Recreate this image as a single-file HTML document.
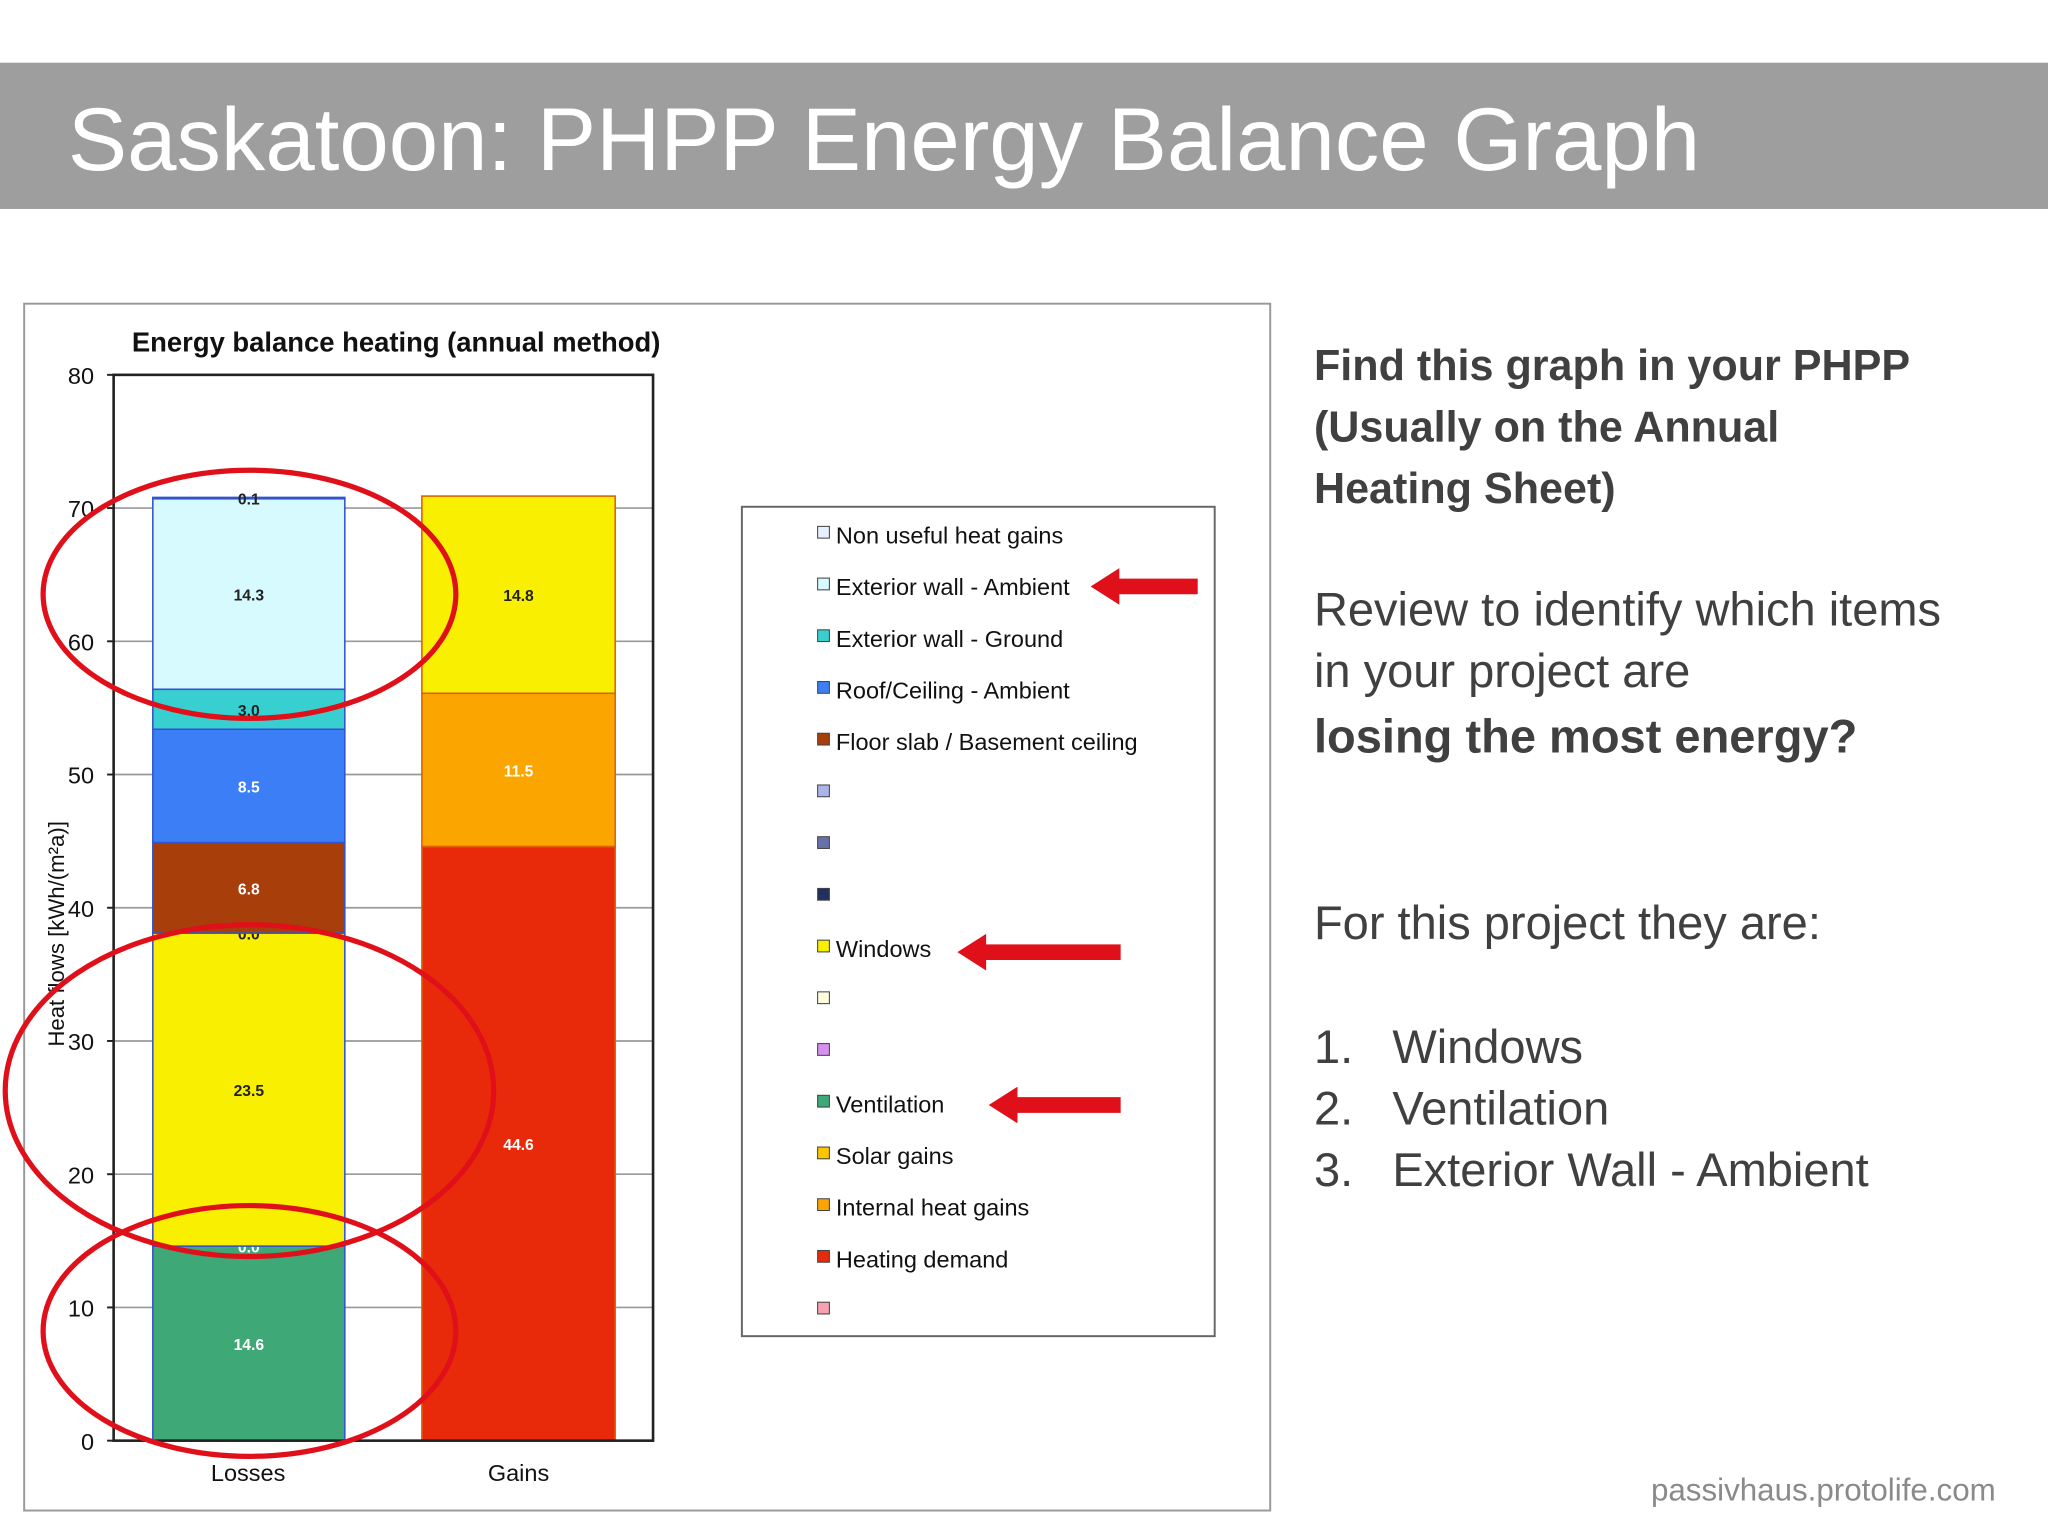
<!DOCTYPE html>
<html><head><meta charset="utf-8"><style>
html,body{margin:0;padding:0;background:#fff;}
svg{display:block;font-family:"Liberation Sans",sans-serif;}
</style></head><body>
<svg id="s" width="2048" height="1536" viewBox="0 0 1568 1176" xmlns="http://www.w3.org/2000/svg">
<rect width="1568" height="1176" fill="#fff"/>
<rect x="0" y="48" width="1568" height="112" fill="#9e9e9e"/>
<text x="52" y="130" font-size="68" fill="#fff">Saskatoon: PHPP Energy Balance Graph</text>
<rect x="18.5" y="232.5" width="954" height="924" fill="#fff" stroke="#999" stroke-width="1.5"/>
<text x="101" y="269" font-size="21" font-weight="bold" fill="#111">Energy balance heating (annual method)</text>
<g id="grid"></g>
<g id="bars"></g>
<rect x="87" y="287" width="413" height="816" fill="none" stroke="#222" stroke-width="2"/>
<g id="yt"></g>
<text transform="translate(49,715) rotate(-90)" text-anchor="middle" font-size="17" fill="#111">Heat flows [kWh/(m²a)]</text>
<text x="190" y="1134" text-anchor="middle" font-size="18" fill="#111">Losses</text>
<text x="397" y="1134" text-anchor="middle" font-size="18" fill="#111">Gains</text>
<rect x="568" y="388" width="362" height="635" fill="#fff" stroke="#666" stroke-width="1.5"/>
<g id="leg"></g>
<g fill="none" stroke="#e0101a" stroke-width="4">
<ellipse cx="191" cy="455" rx="158" ry="95"/>
<ellipse cx="191" cy="835" rx="187" ry="127"/>
<ellipse cx="191" cy="1019" rx="158" ry="96"/>
</g>
<g fill="#e0101a">
<polygon points="835,449 857,435 857,443 917,443 917,455 857,455 857,463"/>
<polygon points="733,729 755,715 755,723 858,723 858,735 755,735 755,743"/>
<polygon points="757,846 779,832 779,840 858,840 858,852 779,852 779,860"/>
</g>
<g fill="#404040" font-size="36">
<text x="1006" y="291" font-weight="bold" font-size="33">Find this graph in your PHPP</text>
<text x="1006" y="338" font-weight="bold" font-size="33">(Usually on the Annual</text>
<text x="1006" y="385" font-weight="bold" font-size="33">Heating Sheet)</text>
<text x="1006" y="479">Review to identify which items</text>
<text x="1006" y="526">in your project are</text>
<text x="1006" y="576" font-weight="bold" font-size="36">losing the most energy?</text>
<text x="1006" y="719">For this project they are:</text>
<text x="1006" y="814" font-size="36">1.</text><text x="1066" y="814" font-size="36">Windows</text>
<text x="1006" y="861" font-size="36">2.</text><text x="1066" y="861" font-size="36">Ventilation</text>
<text x="1006" y="908" font-size="36">3.</text><text x="1066" y="908" font-size="36">Exterior Wall - Ambient</text>
</g>
<text x="1264" y="1149" font-size="24" fill="#8a8a8a">passivhaus.protolife.com</text>
</svg>
<script>
const lossLabels=["Ventilation","Windows2","Windows","Dark","Floor slab","Roof","Ground","Ambient","Non useful"];
const lossValues=[14.6,0.0,23.5,0.0,6.8,8.5,3.0,14.3,0.1];
const lossColors=["#3fa877","#3fa877","#f9ef00","#203060","#a83e0a","#3c7ef5","#38cfd0","#d6fafd","#4a66ff"];
const gainLabels=["Heating demand","Internal heat gains","Solar gains"];
const gainValues=[44.6,11.5,14.8];
const gainColors=["#e82a0a","#fba500","#f9ef00"];
const yTicks=[0,10,20,30,40,50,60,70,80];
const legendLabels=["Non useful heat gains","Exterior wall - Ambient","Exterior wall - Ground","Roof/Ceiling - Ambient","Floor slab / Basement ceiling","","","","Windows","","","Ventilation","Solar gains","Internal heat gains","Heating demand",""];
const legendColors=["#e8f0ff","#d6fafd","#38cfd0","#3c7ef5","#a83e0a","#aab4e8","#6870a8","#203060","#f9ef00","#fffde0","#d890f0","#3fa877","#fbc800","#fba500","#e82a0a","#f7a0b0"];
const NS="http://www.w3.org/2000/svg";
const y=v=>1103-v*10.2;
function mk(t,a,p){const e=document.createElementNS(NS,t);for(const k in a)e.setAttribute(k,a[k]);p.appendChild(e);return e;}
const grid=document.getElementById('grid'),yt=document.getElementById('yt');
yTicks.forEach(v=>{
 const l=mk('line',{x1:87,x2:500,y1:y(v),y2:y(v),stroke:'#999','stroke-width':1.3},grid);
 
 
 const t=mk('text',{x:72,y:y(v)+7,'text-anchor':'end','font-size':18,fill:'#111'},yt);t.textContent=v;
 
 
 mk('line',{x1:82,x2:87,y1:y(v),y2:y(v),stroke:'#222','stroke-width':1.5},yt);
});
const bars=document.getElementById('bars');
function stack(vals,cols,x0,w,stroke){
 let c=0;
 vals.forEach((v,i)=>{
  const r=mk('rect',{x:x0,y:y(c+v),width:w,height:v*10.2,fill:cols[i],stroke:stroke,'stroke-width':1.2},bars);
  
  
  const t=mk('text',{x:x0+w/2,y:y(c+v/2)+5,'text-anchor':'middle','font-size':12,'font-weight':'bold',fill:(cols[i]=='#e82a0a'||cols[i]=='#3fa877'||cols[i]=='#a83e0a'||cols[i]=='#3c7ef5'||cols[i]=='#fba500')?'#fff':'#222'},bars);
  t.textContent=v.toFixed(1);
  
  
  c+=v;
 });
}
stack(lossValues,lossColors,117,147,'#3355cc');
stack([0].concat(gainValues),["#e82a0a"].concat(gainColors),323,148,'#e06000');
const leg=document.getElementById('leg');
legendLabels.forEach((s,i)=>{
 const yy=409+i*39.6;
 const r=mk('rect',{x:626,y:yy-6,width:9,height:9,fill:legendColors[i],stroke:'#444','stroke-width':0.8},leg);
 
 
 if(s){const t=mk('text',{x:640,y:yy+7,'font-size':18,fill:'#111'},leg);t.textContent=s;
 
 }
});
</script>
</body></html>
